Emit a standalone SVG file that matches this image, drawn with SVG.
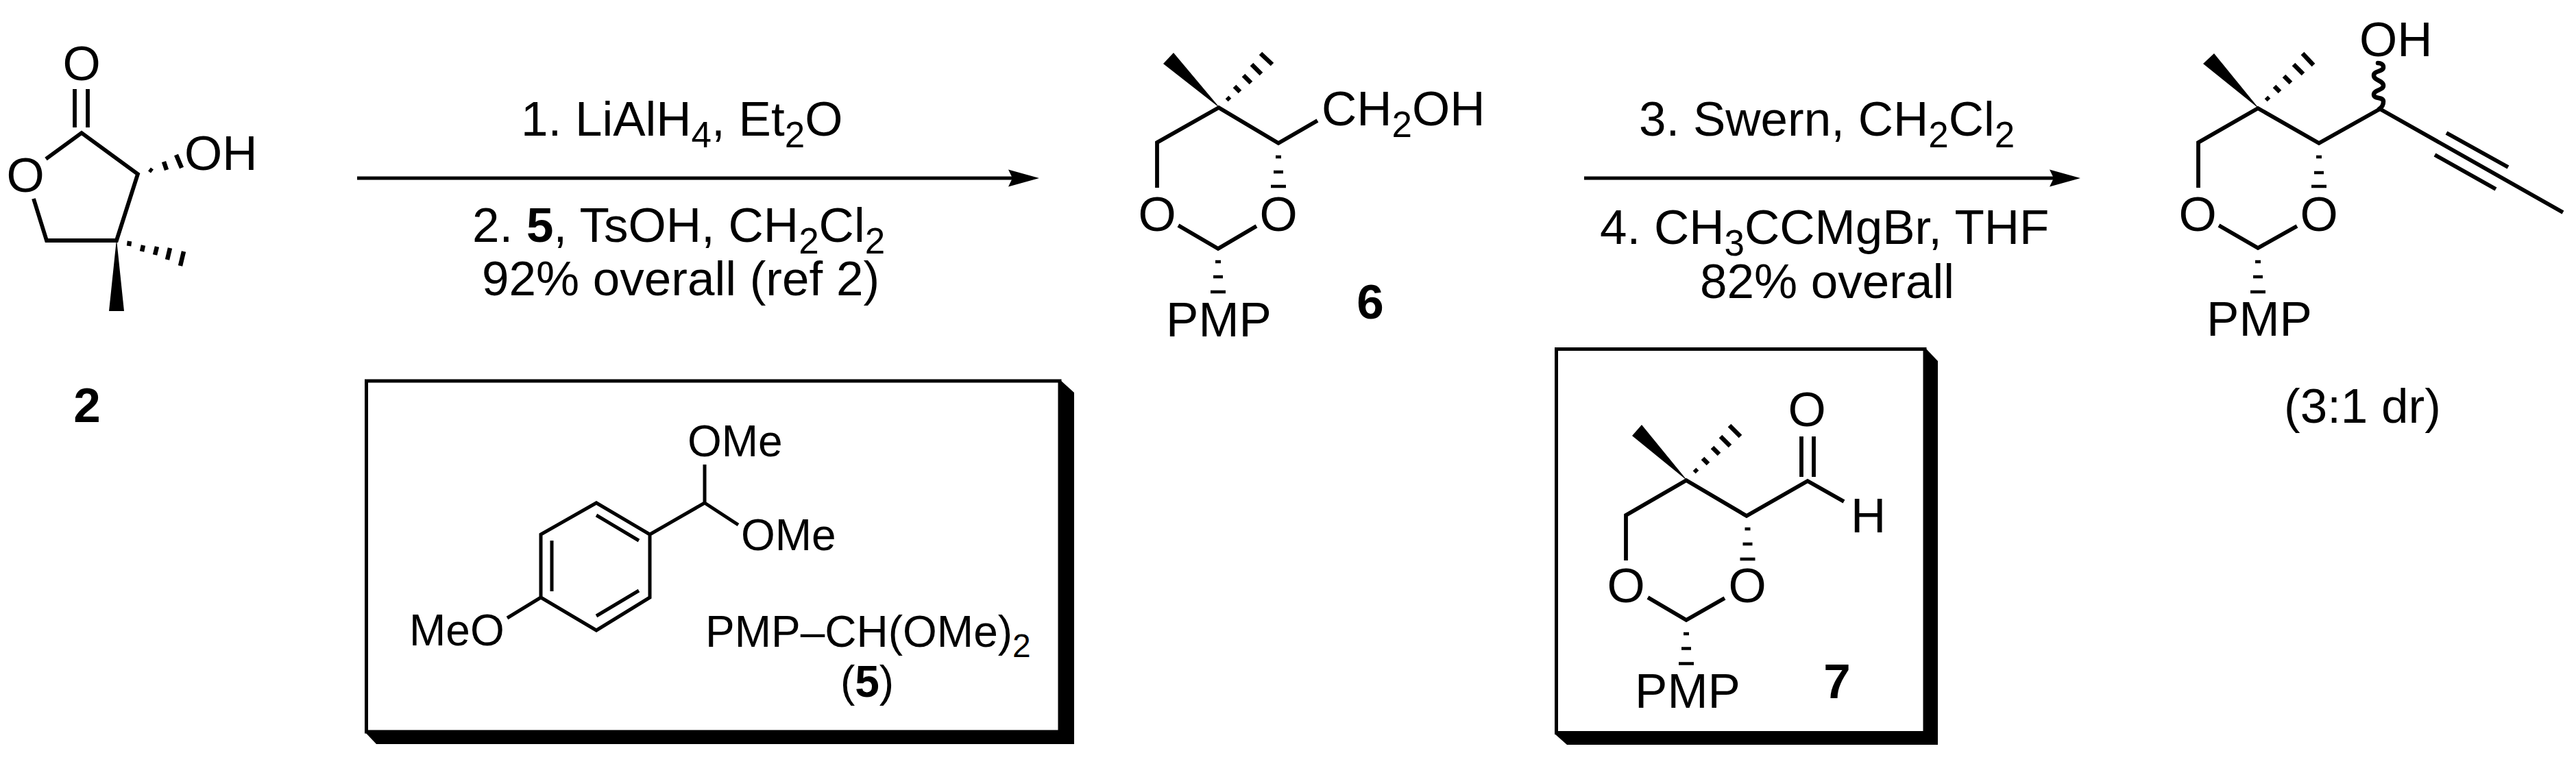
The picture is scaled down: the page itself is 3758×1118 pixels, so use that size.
<svg xmlns="http://www.w3.org/2000/svg" width="3758" height="1118" viewBox="0 0 3758 1118">
<defs>
<style>
text{font-family:"Liberation Sans",Arial,sans-serif;font-size:71px;fill:#000}
.b{font-weight:bold}
.m{text-anchor:middle}
text.t{font-size:64px}
.bond{fill:none;stroke:#000;stroke-width:5.8;stroke-linejoin:miter;stroke-linecap:butt}
.thin{stroke-width:5}
.wavy{fill:none;stroke:#000;stroke-width:6.5;stroke-linecap:round}
.h{fill:none;stroke:#000;stroke-width:6.5}
.v{fill:none;stroke:#000;stroke-width:4.7}
.w{fill:#000;stroke:none}
.box{fill:#fff;stroke:#000;stroke-width:5}
.arr{fill:none;stroke:#000;stroke-width:5}
tspan.u{font-size:53px}
text.t tspan.u{font-size:48px}
</style>
<marker id="head" markerUnits="userSpaceOnUse" markerWidth="46" markerHeight="26" refX="6" refY="13" orient="auto">
<path d="M0,0.5 L45,13 L0,25.5 L6,13 Z" fill="#000"/>
</marker>
</defs>
<rect width="3758" height="1118" fill="#fff"/>

<g id="connectors">
<path class="arr" d="M521,260 H1477" marker-end="url(#head)"/>
<path class="arr" d="M2311,260 H2996" marker-end="url(#head)"/>
</g>

<g id="reagents-1">
<text x="760" y="198">1. LiAlH<tspan class="u" dy="17">4</tspan><tspan dy="-17">, Et</tspan><tspan class="u" dy="17">2</tspan><tspan dy="-17">O</tspan></text>
<text x="689" y="353">2. <tspan class="b">5</tspan>, TsOH, CH<tspan class="u" dy="17">2</tspan><tspan dy="-17">Cl</tspan><tspan class="u" dy="17">2</tspan></text>
<text x="703" y="431">92% overall (ref 2)</text>
</g>

<g id="reagents-2">
<text x="2391" y="198">3. Swern, CH<tspan class="u" dy="17">2</tspan><tspan dy="-17">Cl</tspan><tspan class="u" dy="17">2</tspan></text>
<text x="2334" y="356">4. CH<tspan class="u" dy="17">3</tspan><tspan dy="-17">CCMgBr, THF</tspan></text>
<text x="2480" y="435">82% overall</text>
</g>

<g id="compound-2">
<path class="bond" d="M67,232 L119,194 L201,254 L170,351 H68 L49,290"/>
<path class="bond" d="M109,130 V186 M128,130 V186"/>
<path class="w" d="M170,349 L159,454 H181 Z"/>
<path class="h" d="M218,247 L222,250 M239,236 L243,248 M257,226 L265,245 M189,352 L188,359 M209,358 L207,367 M229,360 L226,372 M248,362 L244,379 M268,367 L263,388"/>
<text class="m" x="119" y="117">O</text>
<text class="m" x="37" y="280">O</text>
<text x="269" y="248">OH</text>
<text class="b m" x="127" y="616">2</text>
</g>

<g id="compound-6">
<path class="bond" d="M1688,274 V208 L1778,157 L1865,209 L1922,176 M1719,329 L1777,363 L1833,330"/>
<path class="w" d="M1780,158 L1712,77 L1697,93 Z"/>
<path class="h" d="M1790,142 L1794,146 M1801,126 L1809,134 M1814,110 L1825,121 M1826,94 L1840,108 M1839,78 L1856,94"/>
<path class="v" d="M1861,229 H1869 M1858,251 H1872 M1854,272 H1876 M1773,382 H1781 M1770,404 H1784 M1766,426 H1788"/>
<text class="m" x="1688" y="337">O</text>
<text class="m" x="1865" y="337">O</text>
<text class="m" x="1778" y="491">PMP</text>
<text x="1928" y="183">CH<tspan class="u" dy="17">2</tspan><tspan dy="-17">OH</tspan></text>
<text class="b m" x="1999" y="465">6</text>
</g>

<g id="compound-8">
<path class="bond" d="M3207,274 V208 L3294,158 L3383,209 L3472,159 L3739,310 M3569,194 L3659,244 M3552,226 L3641,276 M3237,329 L3294,362 L3351,330"/>
<path class="wavy" d="M3471,159 C3476,156 3477,152 3477,148 C3477,141 3463,145 3463,138 C3463,131 3477,132 3477,125 C3477,117 3463,118 3463,110 C3463,103 3477,105 3477,98 C3477,94 3473,92 3469,92"/>
<path class="w" d="M3296,159 L3230,78 L3214,93 Z"/>
<path class="h" d="M3306,142 L3310,146 M3318,126 L3326,134 M3332,111 L3342,121 M3346,94 L3360,108 M3359,78 L3375,95"/>
<path class="v" d="M3379,229 H3387 M3376,252 H3390 M3372,272 H3394 M3290,382 H3298 M3287,404 H3301 M3283,426 H3305"/>
<text class="m" x="3206" y="337">O</text>
<text class="m" x="3383" y="337">O</text>
<text class="m" x="3296" y="490">PMP</text>
<text x="3442" y="82">OH</text>
<text x="3332" y="617">(3:1 dr)</text>
</g>

<g id="box-5">
<path class="w" d="M1546,554 L1567,573 V1086 H549 L532,1068 Z"/>
<rect class="box" x="534.5" y="556" width="1011.5" height="512"/>
<path class="bond thin" d="M870,734 L948,780 V872 L870,920 L789,872 V780 Z M870,752 L932,789 M805,789 V863 M870,899 L932,862 M948,780 L1028,734 V678 M1028,734 L1077,766 M789,872 L740,902"/>
<text class="t" x="1003" y="666">OMe</text>
<text class="t" x="1081" y="803">OMe</text>
<text class="t" x="597" y="942">MeO</text>
<text class="t" x="1029" y="944">PMP–CH(OMe)<tspan class="u" dy="15">2</tspan></text>
<text class="t m" x="1265" y="1017">(<tspan class="b">5</tspan>)</text>
</g>

<g id="box-7">
<path class="w" d="M2808,507 L2827,527 V1087 H2286 L2268,1071 Z"/>
<rect class="box" x="2270.5" y="509.5" width="537.5" height="560"/>
<path class="bond" d="M2372,818 V752 L2460,701 L2548,753 L2637,702 L2690,732 M2628,637 V696 M2646,637 V696 M2404,872 L2460,905 L2516,873"/>
<path class="w" d="M2462,702 L2395,620 L2381,636 Z"/>
<path class="h" d="M2472,685 L2476,689 M2484,669 L2492,677 M2498,653 L2508,663 M2510,637 L2524,651 M2523,621 L2539,637"/>
<path class="v" d="M2545.5,772 H2553.5 M2542.5,794 H2556.5 M2538.5,816 H2560.5 M2456,925 H2464 M2453,946.5 H2467 M2449,968.5 H2471"/>
<text class="m" x="2636" y="622">O</text>
<text x="2700" y="777">H</text>
<text class="m" x="2372" y="879">O</text>
<text class="m" x="2549" y="879">O</text>
<text class="m" x="2462" y="1033">PMP</text>
<text class="b m" x="2680" y="1019">7</text>
</g>
</svg>
